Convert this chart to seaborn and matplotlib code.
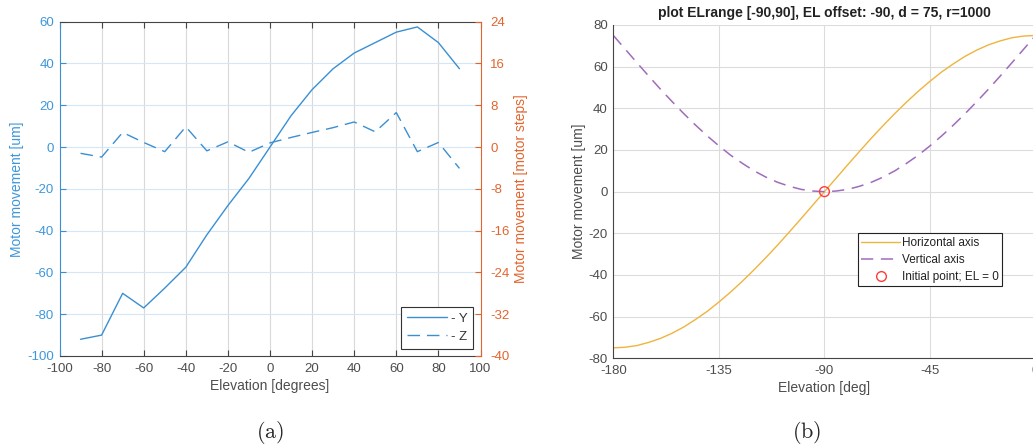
import numpy as np
import pandas as pd
import matplotlib
matplotlib.use("Agg")
import matplotlib.pyplot as plt
import seaborn as sns
from matplotlib.lines import Line2D

sns.set_theme(style="white")
plt.rcParams['font.family'] = ['Liberation Sans', 'DejaVu Sans']
plt.rcParams['mathtext.fontset'] = 'cm'

# ---------------- data (a) ----------------
elev_a = [-90, -80, -70, -60, -50, -40, -30, -20, -10, 0, 10, 20, 30, 40, 50, 60, 70, 80, 90]
mov_y = [-92, -90, -70, -77, -67.5, -57.5, -42, -28, -15, 0, 15, 27.5, 37.5, 45, 50, 55, 57.5, 50, 37.5]
mov_z = [-3, -4.8, 7, 2.2, -2.2, 9.7, -1.8, 2.5, -2.5, 2, 4.6, 7, 9.3, 12, 7.3, 16.5, -2.2, 2.2, -10.2]
xticks_a = [-100, -80, -60, -40, -20, 0, 20, 40, 60, 80, 100]
yticks_a = [-100, -80, -60, -40, -20, 0, 20, 40, 60]
yticks_a2 = [-40, -32, -24, -16, -8, 0, 8, 16, 24]

# ---------------- data (b) ----------------
elev_b = [-180, -175, -170, -165, -160, -155, -150, -145, -140, -135, -130, -125,
          -120, -115, -110, -105, -100, -95, -90, -85, -80, -75, -70, -65,
          -60, -55, -50, -45, -40, -35, -30, -25, -20, -15, -10, -5, 0]
horiz = [-75, -74.7, -73.9, -72.4, -70.5, -68, -65, -61.4, -57.5, -53, -48.2, -43,
         -37.5, -31.7, -25.7, -19.4, -13, -6.5, 0, 6.5, 13, 19.4, 25.7, 31.7,
         37.5, 43, 48.2, 53, 57.5, 61.4, 65, 68, 70.5, 72.4, 73.9, 74.7, 75]
vert = [75, 68.5, 62, 55.6, 49.3, 43.3, 37.5, 32, 26.8, 22, 17.5, 13.6,
        10, 7, 4.5, 2.6, 1.1, 0.3, 0, 0.3, 1.1, 2.6, 4.5, 7,
        10, 13.6, 17.5, 22, 26.8, 32, 37.5, 43.3, 49.3, 55.6, 62, 68.5, 75]
init_x = [-90]
init_y = [0]
xticks_b = [-180, -135, -90, -45, 0]
yticks_b = [-80, -60, -40, -20, 0, 20, 40, 60, 80]

BLUE = '#3A8FD3'
BLUE_TXT = '#3D97DA'
ORANGE = '#E2652E'
GRAY_TXT = '#4D4D4D'
SPINE = '#444444'
YELLOW = '#EFB43E'
PURPLE = '#A06CBA'
RED = '#FF3B3B'
DASH_A = (0, (9, 5))
DASH_B = (0, (8, 5))

W, H = 1033, 447
fig = plt.figure(figsize=(W / 100, H / 100), dpi=100)

def px(l, t, r, b):
    return [l / W, 1 - b / H, (r - l) / W, (b - t) / H]

# ================= (a) =================
ax1 = fig.add_axes(px(59.5, 21.7, 480.5, 356))
df_a = pd.DataFrame({'elev': elev_a, 'y': mov_y, 'z': mov_z})
sns.lineplot(data=df_a, x='elev', y='y', ax=ax1, color=BLUE, lw=1.0)
sns.lineplot(data=df_a, x='elev', y='z', ax=ax1, color=BLUE, lw=1.0,
             linestyle=DASH_A)
ax1.set_xlim(-100, 100)
ax1.set_ylim(-100, 60)
ax1.set_xticks(xticks_a)
ax1.set_yticks(yticks_a)
ax1.set_xticklabels([str(v) for v in xticks_a])
ax1.set_yticklabels([str(v) for v in yticks_a])
for v in xticks_a[1:-1]:
    ax1.axvline(v, color='#D9D9D9', lw=0.8, zorder=0)
for v in yticks_a[1:-1]:
    ax1.axhline(v, color='#D5E6F6', lw=0.8, zorder=0)
ax1.tick_params(axis='x', direction='in', length=4, width=0.8, colors=SPINE,
                labelcolor=GRAY_TXT, labelsize=9.5, pad=5, top=True, bottom=True)
ax1.tick_params(axis='y', direction='in', length=4, width=0.8, colors=BLUE,
                labelcolor=BLUE_TXT, labelsize=9.5, pad=4, left=True, right=False)
ax1.set_xlabel('Elevation [degrees]', fontsize=10, color=GRAY_TXT, labelpad=3)
ax1.set_ylabel('Motor movement [um]', fontsize=10, color=BLUE_TXT, labelpad=2)
for s in ['top', 'bottom']:
    ax1.spines[s].set_color(SPINE)
    ax1.spines[s].set_linewidth(0.8)
ax1.spines['left'].set_color(BLUE)
ax1.spines['left'].set_linewidth(0.8)
ax1.spines['right'].set_visible(False)

ax2 = ax1.twinx()
ax2.set_ylim(-40, 24)
ax2.set_yticks(yticks_a2)
ax2.set_yticklabels([str(v) for v in yticks_a2])
ax2.tick_params(axis='y', direction='in', length=4, width=0.8, colors=ORANGE,
                labelcolor=ORANGE, labelsize=9.5, pad=7)
ax2.set_ylabel('Motor movement [motor steps]', fontsize=10, color=ORANGE, labelpad=3)
for s in ['top', 'bottom', 'left']:
    ax2.spines[s].set_visible(False)
ax2.spines['right'].set_color(ORANGE)
ax2.spines['right'].set_linewidth(0.8)
ax2.grid(False)

h_a = [Line2D([], [], color=BLUE, lw=1.0),
       Line2D([], [], color=BLUE, lw=1.0, linestyle=DASH_A)]
leg1 = ax2.legend(h_a, ['- Y', '- Z'], loc='lower right', fontsize=9.5,
                  handlelength=3.0, handletextpad=0.3, borderpad=0.45,
                  labelspacing=0.45, fancybox=False, framealpha=1,
                  edgecolor='#333333', bbox_to_anchor=((473.3 - 59.5) / 421, (356 - 349) / 334.3),
                  borderaxespad=0)
leg1.get_frame().set_linewidth(0.8)
for t in leg1.get_texts():
    t.set_color('#333333')

# ================= (b) =================
ax3 = fig.add_axes(px(613.3, 25, 1035.6, 358.3))
df_b = pd.DataFrame({'elev': elev_b, 'h': horiz, 'v': vert})
sns.lineplot(data=df_b, x='elev', y='h', ax=ax3, color=YELLOW, lw=1.0)
sns.lineplot(data=df_b, x='elev', y='v', ax=ax3, color=PURPLE, lw=1.1,
             linestyle=DASH_B)
sns.scatterplot(x=init_x, y=init_y, ax=ax3, marker='o', s=50,
                facecolor='none', edgecolor=RED, linewidth=1.0, zorder=5)
ax3.set_xlim(-180, 0)
ax3.set_ylim(-80, 80)
ax3.set_xticks(xticks_b)
ax3.set_yticks(yticks_b)
ax3.set_xticklabels([str(v) for v in xticks_b])
ax3.set_yticklabels([str(v) for v in yticks_b])
for v in xticks_b[1:]:
    ax3.axvline(v, color='#DCDCDC', lw=0.8, zorder=0)
for v in yticks_b[1:]:
    ax3.axhline(v, color='#DCDCDC', lw=0.8, zorder=0)
ax3.tick_params(axis='both', direction='in', length=4, width=0.8, colors=SPINE,
                labelcolor=GRAY_TXT, labelsize=9.5)
ax3.tick_params(axis='x', pad=5)
ax3.tick_params(axis='y', pad=4)
ax3.set_xlabel('Elevation [deg]', fontsize=10, color=GRAY_TXT, labelpad=3)
ax3.set_ylabel('Motor movement [um]', fontsize=10, color=GRAY_TXT, labelpad=2)
ax3.set_title('plot ELrange [-90,90], EL offset: -90, d = 75, r=1000',
              fontsize=10, fontweight='bold', color='#222222', pad=6)
ax3.spines['top'].set_visible(False)
ax3.spines['right'].set_visible(False)
for s in ['left', 'bottom']:
    ax3.spines[s].set_color(SPINE)
    ax3.spines[s].set_linewidth(0.8)

h_b = [Line2D([], [], color=YELLOW, lw=1.0),
       Line2D([], [], color=PURPLE, lw=1.1, linestyle=DASH_B),
       Line2D([], [], color=RED, lw=0, marker='o', markersize=7,
              markerfacecolor='none', markeredgewidth=1.0)]
leg2 = ax3.legend(h_b, ['Horizontal axis', 'Vertical axis', 'Initial point; EL = 0'],
                  loc='upper left', bbox_to_anchor=((857.7 - 613.3) / 422.3, 1 - (233.3 - 25) / 333.3),
                  fontsize=8.5, handlelength=3.3, handletextpad=0.15,
                  borderpad=0.3, labelspacing=0.42, fancybox=False,
                  framealpha=1, edgecolor='#222222', borderaxespad=0)
leg2.get_frame().set_linewidth(0.8)
for t in leg2.get_texts():
    t.set_color('#222222')

# captions
fig.text(270 / W, 1 - 433 / H, r'$\mathrm{(a)}$', ha='center', va='center', fontsize=16)
fig.text(807 / W, 1 - 433 / H, r'$\mathrm{(b)}$', ha='center', va='center', fontsize=16)

fig.savefig('out.png', dpi=100)
